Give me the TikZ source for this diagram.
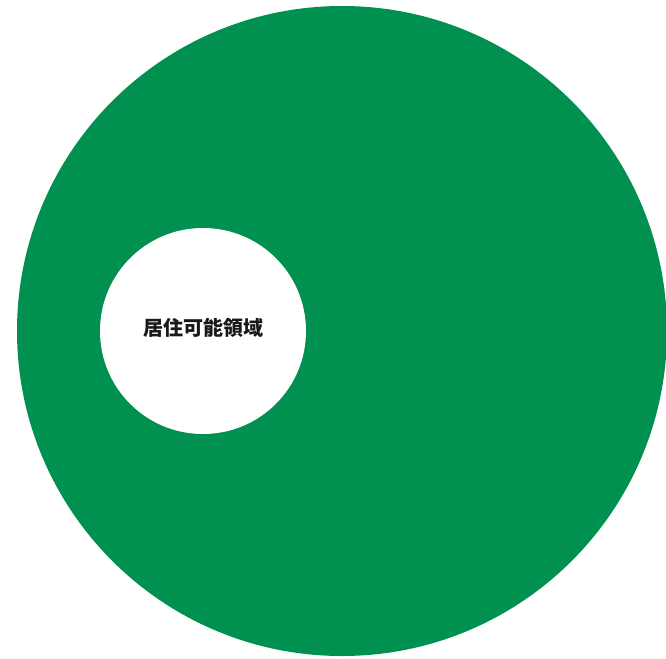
\documentclass[tikz,border=0pt]{standalone}
\usepackage{fontspec}
\newfontfamily\cjk{Noto Sans CJK JP}
\definecolor{biggreen}{RGB}{0,145,81}
\begin{document}
\begin{tikzpicture}[x=1pt,y=-1pt,
  outer/.style={circle,fill=biggreen,draw=none,inner sep=0pt,minimum size=650pt},
  inner/.style={circle,fill=white,draw=none,inner sep=0pt,minimum size=206pt},
  lbl/.style={font=\cjk\bfseries\fontsize{20}{24}\selectfont,text=black!90,inner sep=0pt}]
\useasboundingbox (0,0) rectangle (666,658);
\node[outer] (big) at (342,331) {};
\node[inner] (small) at (203,331) {};
\node[lbl] (t) at (203,328) {居住可能領域};
\end{tikzpicture}
\end{document}
